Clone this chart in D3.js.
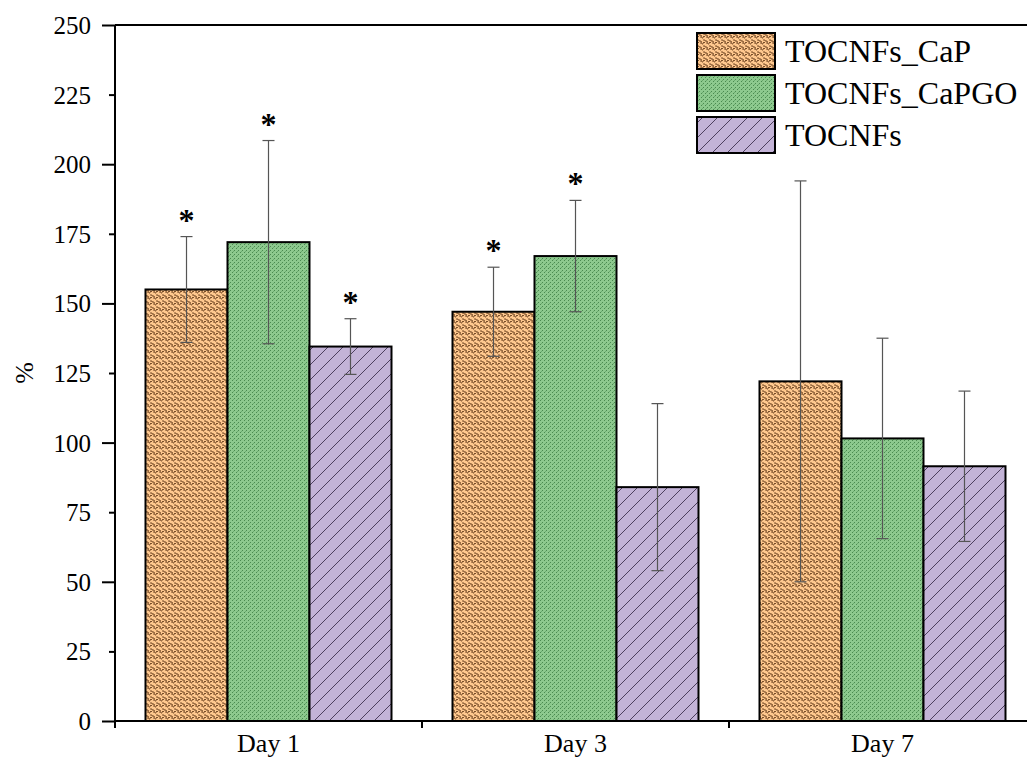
<!DOCTYPE html>
<html>
<head>
<meta charset="utf-8">
<script src="https://cdn.jsdelivr.net/npm/d3@7"></script>
<style>
html,body{margin:0;padding:0;background:#fff;}
svg{display:block;font-family:"Liberation Serif","Times New Roman",serif;}
</style>
</head>
<body>
<svg id="chart" width="1027" height="760"></svg>
<script>
const days = ["Day 1", "Day 3", "Day 7"];
const seriesNames = ["TOCNFs_CaP", "TOCNFs_CaPGO", "TOCNFs"];
const capValues = [155, 147, 122];
const capErrors = [19, 16, 72];
const capgoValues = [172, 167, 101.5];
const capgoErrors = [36.5, 20, 36];
const tocnfValues = [134.5, 84, 91.5];
const tocnfErrors = [10, 30, 27];
const capStars = [true, true, false];
const capgoStars = [true, true, false];
const tocnfStars = [true, false, false];
const yTicks = [0, 25, 50, 75, 100, 125, 150, 175, 200, 225, 250];

const seriesValues = [capValues, capgoValues, tocnfValues];
const seriesErrors = [capErrors, capgoErrors, tocnfErrors];
const seriesStars = [capStars, capgoStars, tocnfStars];

const svg = d3.select("#chart");
const mLeft = 115, mRight = 1036, mTop = 25, mBottom = 721;

const x = d3.scaleBand().domain(days).range([mLeft, mRight]).paddingInner(0).paddingOuter(0);
const x1 = d3.scaleBand().domain(seriesNames).range([0, x.bandwidth()]).paddingInner(0).paddingOuter(0.372);
const y = d3.scaleLinear().domain([0, 250]).range([mBottom, mTop]);

// patterns
const defs = svg.append("defs");
const p0 = defs.append("pattern").attr("id", "pat0").attr("patternUnits", "userSpaceOnUse")
  .attr("width", 6).attr("height", 6);
p0.append("rect").attr("width", 6).attr("height", 6).attr("fill", "#FFC88E");
p0.append("path").attr("d", "M0,1 L2,1 L2,2 L4,2 L4,3 L5,3 M3,4 L5,4 L5,5 L6,5 M0,4 L1,4")
  .attr("stroke", "#7a4f2a").attr("stroke-width", 1).attr("fill", "none");
p0.append("rect").attr("x", 0).attr("y", 3).attr("width", 2).attr("height", 1).attr("fill", "#7a4f2a");
const p1 = defs.append("pattern").attr("id", "pat1").attr("patternUnits", "userSpaceOnUse")
  .attr("width", 4).attr("height", 4);
p1.append("rect").attr("width", 4).attr("height", 4).attr("fill", "#8DC98E");
p1.append("rect").attr("x", 0).attr("y", 0).attr("width", 1).attr("height", 1).attr("fill", "#4a8a50");
p1.append("rect").attr("x", 2).attr("y", 2).attr("width", 1).attr("height", 1).attr("fill", "#4a8a50");
p1.append("rect").attr("x", 1).attr("y", 3).attr("width", 1).attr("height", 1).attr("fill", "#6aaa6e");
const p2 = defs.append("pattern").attr("id", "pat2").attr("patternUnits", "userSpaceOnUse")
  .attr("width", 15).attr("height", 15);
p2.append("rect").attr("width", 15).attr("height", 15).attr("fill", "#C3B3D7");
p2.append("path").attr("d", "M-2,17 L17,-2 M-2,2 L2,-2 M13,17 L17,13")
  .attr("stroke", "#4d3f5e").attr("stroke-width", 1);
const fills = ["url(#pat0)", "url(#pat1)", "url(#pat2)"];

// bars
seriesNames.forEach((s, si) => {
  const g = svg.append("g");
  days.forEach((d, di) => {
    const v = seriesValues[si][di];
    g.append("rect")
      .attr("x", x(d) + x1(s))
      .attr("y", y(v))
      .attr("width", x1.bandwidth())
      .attr("height", y(0) - y(v))
      .attr("fill", fills[si])
      .attr("stroke", "#000")
      .attr("stroke-width", 2);
  });
});

// error bars
seriesNames.forEach((s, si) => {
  days.forEach((d, di) => {
    const v = seriesValues[si][di], e = seriesErrors[si][di];
    const cx = x(d) + x1(s) + x1.bandwidth() / 2;
    const g = svg.append("g").attr("stroke", "#555").attr("stroke-width", 1.2);
    g.append("line").attr("x1", cx).attr("x2", cx).attr("y1", y(v + e)).attr("y2", y(v - e));
    g.append("line").attr("x1", cx - 6).attr("x2", cx + 6).attr("y1", y(v + e)).attr("y2", y(v + e));
    g.append("line").attr("x1", cx - 6).attr("x2", cx + 6).attr("y1", y(v - e)).attr("y2", y(v - e));
    if (seriesStars[si][di]) {
      svg.append("text").attr("x", cx).attr("y", y(v + e) - 6)
        .attr("text-anchor", "middle").attr("font-size", 32).attr("font-weight", "bold")
        .attr("fill", "#000").text("*");
    }
  });
});

// y axis
const yAxis = svg.append("g").attr("transform", `translate(${mLeft},0)`)
  .call(d3.axisLeft(y).tickValues(yTicks).tickSize(13).tickPadding(0));
yAxis.select(".domain").attr("stroke-width", 2).attr("d", `M0,${mTop}V${mBottom + 7}`);
yAxis.selectAll(".tick line").attr("stroke-width", 2)
  .attr("x2", d => d % 50 === 0 ? -13 : -6);
yAxis.selectAll(".tick text").attr("x", -24).attr("font-size", 25)
  .attr("font-family", "Liberation Serif, Times New Roman, serif").attr("fill", "#000").attr("dy", "0.34em");

// x axis
const xAxis = svg.append("g").attr("transform", `translate(0,${mBottom})`)
  .call(d3.axisBottom(x).tickSize(0).tickPadding(13));
xAxis.select(".domain").remove();
xAxis.selectAll(".tick text").attr("font-size", 26)
  .attr("font-family", "Liberation Serif, Times New Roman, serif").attr("fill", "#000");
svg.append("line").attr("x1", mLeft).attr("x2", 1027).attr("y1", mBottom).attr("y2", mBottom)
  .attr("stroke", "#000").attr("stroke-width", 2);
svg.append("g").selectAll("line").data(days).join("line")
  .attr("x1", d => x(d)).attr("x2", d => x(d)).attr("y1", mBottom).attr("y2", mBottom + 7)
  .attr("stroke", "#000").attr("stroke-width", 2);
svg.append("line").attr("x1", mLeft).attr("x2", 1027).attr("y1", mTop).attr("y2", mTop)
  .attr("stroke", "#000").attr("stroke-width", 2);

// y label
svg.append("text").attr("transform", `translate(33,${y(125)}) rotate(-90)`)
  .attr("text-anchor", "middle").attr("font-size", 26).attr("fill", "#000").text("%");

// legend
const lg = svg.append("g").attr("transform", "translate(697,33)");
seriesNames.forEach((s, i) => {
  const yy = i * 42;
  lg.append("rect").attr("x", 0).attr("y", yy).attr("width", 78).attr("height", 36)
    .attr("fill", fills[i]).attr("stroke", "#000").attr("stroke-width", 2);
  lg.append("text").attr("x", 88).attr("y", yy + 18).attr("dy", "0.35em")
    .attr("font-size", 32).attr("fill", "#000").text(s);
});
</script>
</body>
</html>
